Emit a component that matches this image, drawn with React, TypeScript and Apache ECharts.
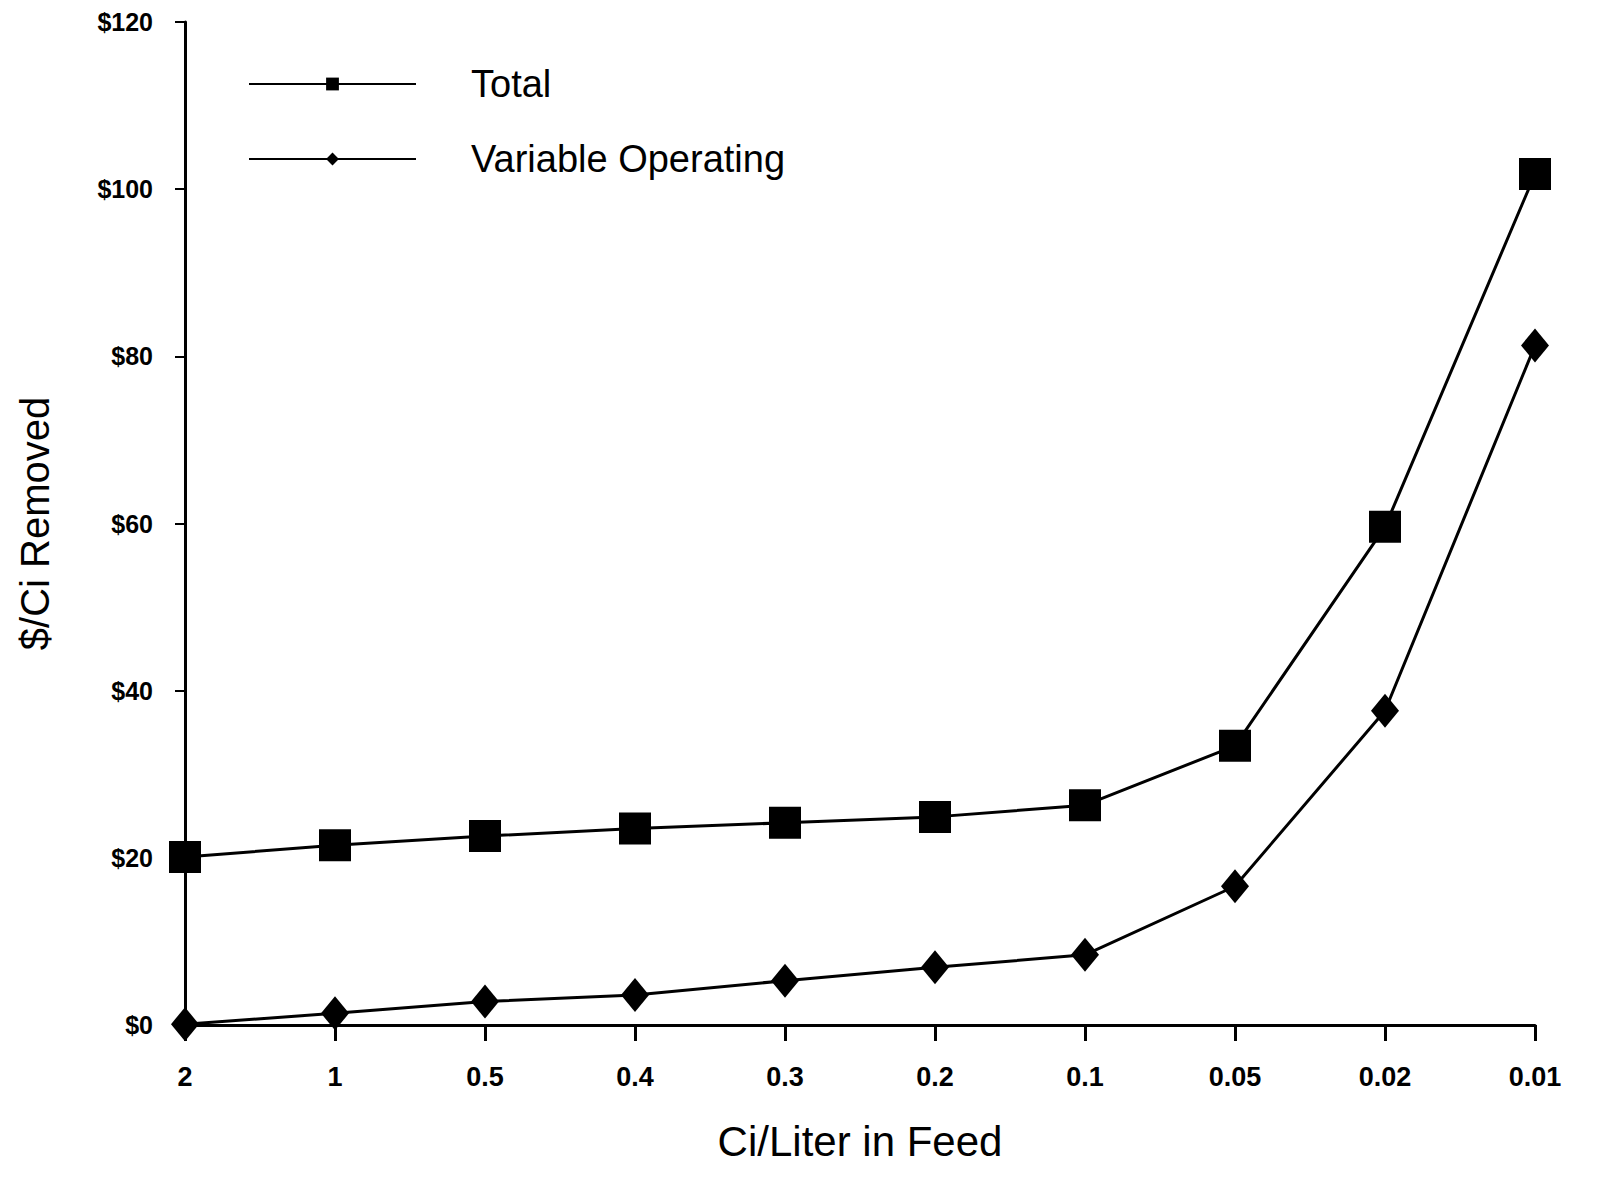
import React, { useEffect, useRef } from "react";
import * as echarts from "echarts";

const categories = ["2", "1", "0.5", "0.4", "0.3", "0.2", "0.1", "0.05", "0.02", "0.01"];
const totalValues = [20.1, 21.5, 22.6, 23.5, 24.2, 24.9, 26.3, 33.4, 59.6, 101.8];
const variableValues = [0.1, 1.4, 2.8, 3.6, 5.3, 6.9, 8.4, 16.6, 37.6, 81.3];
const yTicks = { min: 0, max: 120, interval: 20 };

export default function App() {
  const ref = useRef<HTMLDivElement>(null);
  useEffect(() => {
    if (!ref.current) return;
    const chart = echarts.init(ref.current, null, { renderer: "svg" });
    const font = "'Liberation Sans Narrow', 'Liberation Sans', Arial, sans-serif";
    chart.setOption({
      animation: false,
      backgroundColor: "#ffffff",
      grid: {
        left: 177,
        right: 60,
        top: 14,
        bottom: 163,
        containLabel: false,
        outerBoundsMode: "none",
      },
      legend: {
        orient: "vertical",
        left: 235,
        top: 52,
        itemWidth: 167,
        itemHeight: 16,
        itemGap: 37,
        data: ["Total", "Variable Operating"],
        textStyle: {
          fontFamily: "'Liberation Sans', Arial, sans-serif",
          fontSize: 38,
          color: "#000",
          padding: [0, 0, 0, 50],
        },
      },
      xAxis: {
        type: "category",
        data: categories,
        boundaryGap: false,
        name: "Ci/Liter in Feed",
        nameLocation: "middle",
        nameGap: 95,
        nameTextStyle: {
          fontFamily: "'Liberation Sans', Arial, sans-serif",
          fontSize: 42,
          color: "#000",
        },
        axisLine: { lineStyle: { color: "#000", width: 3 } },
        axisTick: { alignWithLabel: true, length: 16, lineStyle: { color: "#000", width: 3 } },
        axisLabel: {
          margin: 38,
          fontFamily: font,
          fontWeight: "bold",
          fontSize: 27,
          color: "#000",
        },
        splitLine: { show: false },
      },
      yAxis: {
        type: "value",
        min: yTicks.min,
        max: yTicks.max,
        interval: yTicks.interval,
        name: "$/Ci Removed",
        nameLocation: "middle",
        nameGap: 130,
        nameRotate: 90,
        nameTextStyle: {
          fontFamily: "'Liberation Sans', Arial, sans-serif",
          fontSize: 40,
          color: "#000",
        },
        axisLine: { show: true, lineStyle: { color: "#000", width: 3 } },
        axisTick: { show: true, length: 10, lineStyle: { color: "#000", width: 2 } },
        axisLabel: {
          margin: 32,
          fontFamily: font,
          fontWeight: "bold",
          fontSize: 25,
          color: "#000",
          formatter: (v: number) => "$" + v,
        },
        splitLine: { show: false },
      },
      series: [
        {
          name: "Total",
          type: "line",
          data: totalValues,
          symbol: "rect",
          symbolSize: 32,
          lineStyle: { color: "#000", width: 3 },
          itemStyle: { color: "#000" },
        },
        {
          name: "Variable Operating",
          type: "line",
          data: variableValues,
          symbol: "diamond",
          symbolSize: [28, 34],
          lineStyle: { color: "#000", width: 3 },
          itemStyle: { color: "#000" },
        },
      ],
    });
    return () => chart.dispose();
  }, []);
  return <div ref={ref} style={{ width: 1587, height: 1180 }} />;
}
